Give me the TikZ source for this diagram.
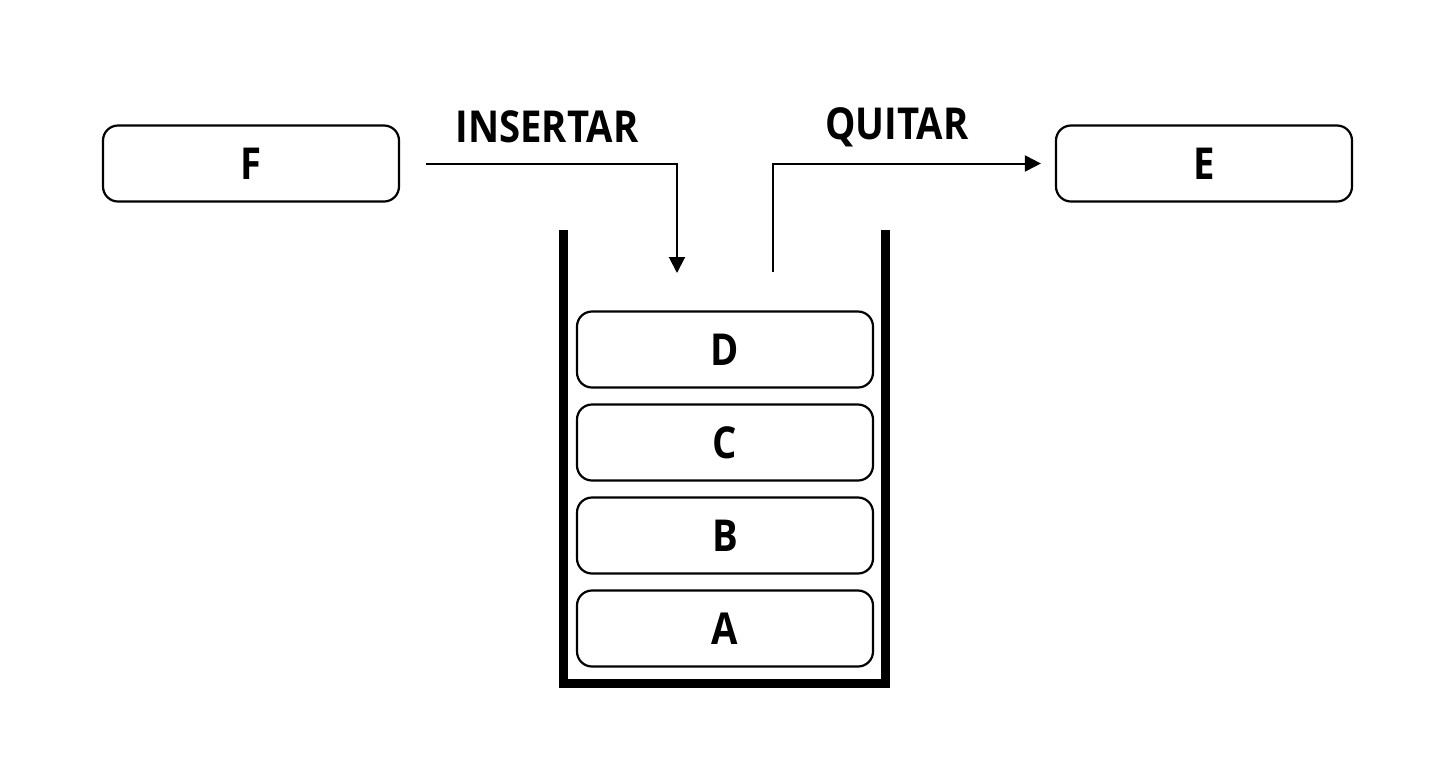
\documentclass[tikz,border=0pt]{standalone}
\usepackage{fontspec}
\setmainfont{Open Sans}[FakeStretch=0.87]
\usetikzlibrary{arrows.meta}
\begin{document}
\begin{tikzpicture}[x=0.5pt,y=-0.5pt,
  item/.style={draw,line width=1.1pt,rounded corners=7.5pt,minimum width=148pt,minimum height=38pt,inner sep=0pt,font=\bfseries\fontsize{22}{26}\selectfont},
  lbl/.style={inner sep=0pt,font=\bfseries\fontsize{22}{26}\selectfont},
  conn/.style={line width=1pt,-{Triangle[length=8pt,width=8pt]}},
  wall/.style={line width=4.5pt}]
\useasboundingbox (0,0) rectangle (1451,783);
\node[item] (F) at (251,163.5) {F};
\node[item] (E) at (1204,163.5) {E};
\node[item] (D) at (725,349.5) {D};
\node[item] (C) at (725,442.5) {C};
\node[item] (B) at (725,535.5) {B};
\node[item] (A) at (725,628.5) {A};
\node[lbl] (ins) at (547,127) {INSERTAR};
\node[lbl] (qui) at (897,127) {QUITAR};
\coordinate (inTip) at (677,273);
\coordinate (outBot) at (773,272);
\draw[conn] ([xshift=13pt]F.east) -| (inTip);
\draw[conn] (outBot) |- ([xshift=-7pt]E.west);
\coordinate (wl) at (563,230);
\coordinate (bl) at (563,683);
\coordinate (br) at (885,683);
\coordinate (wr) at (885,230);
\draw[wall] (wl) -- (bl) -- (br) -- (wr);
\end{tikzpicture}
\end{document}
